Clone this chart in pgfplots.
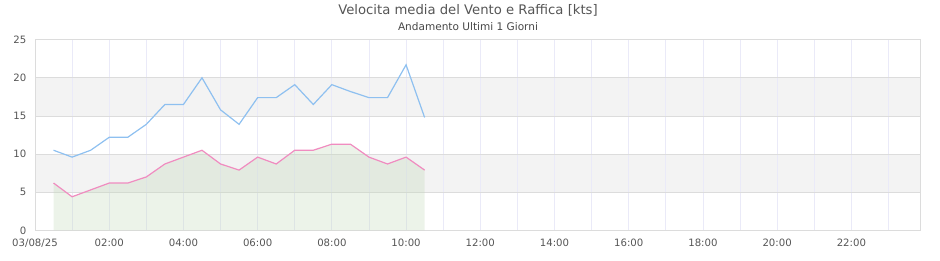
\documentclass[border=0pt]{standalone}
\usepackage{pgfplots}
\pgfplotsset{compat=1.18}
\usepackage{fontspec}
\setmainfont{DejaVu Sans}
\definecolor{gustc}{HTML}{8EC0F0}
\definecolor{meanc}{HTML}{F08CC0}
\definecolor{bandc}{HTML}{F3F3F3}
\definecolor{hgrid}{HTML}{DCDCDC}
\definecolor{vgrid}{HTML}{EAEAF8}
\definecolor{areac}{HTML}{C4DABA}
\definecolor{txtc}{HTML}{555555}
\begin{document}
\begin{tikzpicture}
\node[text=txtc, font=\fontsize{9.9}{11}\selectfont] at (351pt,187.5pt) {Velocita media del Vento e Raffica [kts]};
\node[text=black!72, font=\fontsize{7.9}{9}\selectfont] at (351pt,175.3pt) {Andamento Ultimi 1 Giorni};
\begin{axis}[
  at={(26.25pt,22.5pt)}, anchor=south west,
  scale only axis, width=663.75pt, height=143pt,
  set layers,
  xmin=0, xmax=23.85, ymin=0, ymax=25,
  xtick={0,2,...,22},
  xticklabels={03/08/25,02:00,04:00,06:00,08:00,10:00,12:00,14:00,16:00,18:00,20:00,22:00},
  minor xtick={1,3,...,23},
  ytick={0,5,...,25},
  xmajorgrids, xminorgrids, ymajorgrids,
  major x grid style={vgrid, line width=0.55pt},
  minor x grid style={vgrid, line width=0.55pt},
  major y grid style={hgrid, line width=0.6pt},
  major tick length=0pt, minor tick length=0pt,
  axis line style={draw=hgrid, line width=0.7pt},
  tick label style={text=txtc, font=\fontsize{7.6}{9}\selectfont},
  /pgf/number format/assume math mode=true,
  yticklabel style={xshift=-3pt},
  xticklabel style={yshift=-3pt},
]
\addplot[on layer=axis background, fill=bandc, draw=none] coordinates {(0,5) (23.85,5) (23.85,10) (0,10)} -- cycle;
\addplot[on layer=axis background, fill=bandc, draw=none] coordinates {(0,15) (23.85,15) (23.85,20) (0,20)} -- cycle;
\addplot[draw=none, fill=areac, fill opacity=0.32] coordinates {
(0.5,6.2) (1.0,4.4) (1.5,5.3) (2.0,6.2) (2.5,6.2) (3.0,7.0) (3.5,8.7) (4.0,9.6) (4.5,10.5) (5.0,8.7) (5.5,7.9) (6.0,9.6) (6.5,8.7) (7.0,10.5) (7.5,10.5) (8.0,11.3) (8.5,11.3) (9.0,9.6) (9.5,8.7) (10.0,9.6) (10.5,7.9)
} \closedcycle;
\addplot[meanc, line width=0.9pt] coordinates {
(0.5,6.2) (1.0,4.4) (1.5,5.3) (2.0,6.2) (2.5,6.2) (3.0,7.0) (3.5,8.7) (4.0,9.6) (4.5,10.5) (5.0,8.7) (5.5,7.9) (6.0,9.6) (6.5,8.7) (7.0,10.5) (7.5,10.5) (8.0,11.3) (8.5,11.3) (9.0,9.6) (9.5,8.7) (10.0,9.6) (10.5,7.9)
};
\addplot[gustc, line width=0.9pt] coordinates {
(0.5,10.5) (1.0,9.6) (1.5,10.5) (2.0,12.2) (2.5,12.2) (3.0,13.9) (3.5,16.5) (4.0,16.5) (4.5,20.0) (5.0,15.8) (5.5,13.9) (6.0,17.4) (6.5,17.4) (7.0,19.1) (7.5,16.5) (8.0,19.1) (8.5,18.2) (9.0,17.4) (9.5,17.4) (10.0,21.7) (10.5,14.8)
};
\end{axis}
\path (0pt,0pt) rectangle (705pt,195pt);
\end{tikzpicture}
\end{document}
